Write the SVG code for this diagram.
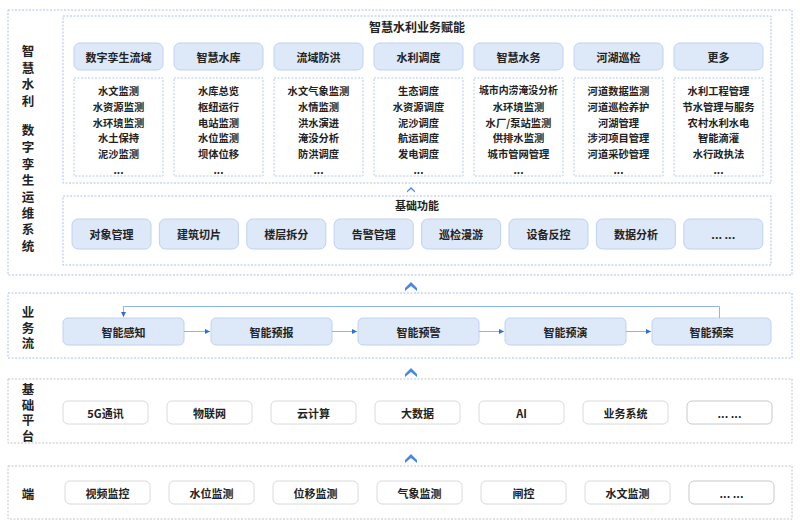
<svg xmlns="http://www.w3.org/2000/svg" width="800" height="527" viewBox="0 0 800 527">
<defs>
<style>
text{font-family:"Noto Sans CJK SC","Liberation Sans",sans-serif;fill:#222;text-anchor:middle;dominant-baseline:central;font-weight:700}
.lbl{font-size:12.5px;font-weight:700}
.t{font-size:11px}
.s{font-size:10.3px}
.outer{fill:#fff;stroke:#a9c3ec;stroke-width:1;stroke-dasharray:2 1.5}
.outerg{fill:#fff;stroke:#c4c4c4;stroke-width:1;stroke-dasharray:2 1.5}
.hd{fill:#dde8f8;stroke:#bfd2f1;stroke-width:1}
.lst{fill:#fff;stroke:#b4cbee;stroke-width:1;stroke-dasharray:2 1.5}
.wb{fill:#fff;stroke:#dadada;stroke-width:1}
.chev{fill:#4a86e8}
.con{fill:none;stroke:#8fb3ec;stroke-width:1}
</style>
<marker id="ah" markerWidth="6" markerHeight="6" refX="5" refY="3" orient="auto" markerUnits="userSpaceOnUse">
<path d="M0,0.5 L5,3 L0,5.5 Z" fill="#2f6fd6"/>
</marker>
</defs>
<rect width="800" height="527" fill="#fff"/>

<!-- Layer 1: system -->
<g id="layer-system">
<rect class="outer" x="8" y="10" width="784" height="265"/>
<text class="lbl"><tspan x="28" y="50">智</tspan><tspan x="28" y="67">慧</tspan><tspan x="28" y="83">水</tspan><tspan x="28" y="100">利</tspan><tspan x="28" y="129">数</tspan><tspan x="28" y="146">字</tspan><tspan x="28" y="163">孪</tspan><tspan x="28" y="179">生</tspan><tspan x="28" y="196">运</tspan><tspan x="28" y="212">维</tspan><tspan x="28" y="228">系</tspan><tspan x="28" y="245">统</tspan></text>
</g>

<g id="business">
<rect class="outer" x="63" y="16" width="708" height="167"/>
<text x="417" y="26" style="font-size:12px">智慧水利业务赋能</text>
</g>

<g id="col-1">
<rect class="hd" x="74" y="43" width="89" height="27" rx="6"/>
<text class="t" x="118.5" y="56.5">数字孪生流域</text>
<rect class="lst" x="74" y="78" width="89" height="98"/>
<text class="s" x="118.5" y="90">水文监测</text>
<text class="s" x="118.5" y="106">水资源监测</text>
<text class="s" x="118.5" y="122">水环境监测</text>
<text class="s" x="118.5" y="137">水土保持</text>
<text class="s" x="118.5" y="153">泥沙监测</text>
<text class="s" x="118.5" y="169">...</text>
</g>
<g id="col-2">
<rect class="hd" x="174" y="43" width="89" height="27" rx="6"/>
<text class="t" x="218.5" y="56.5">智慧水库</text>
<rect class="lst" x="174" y="78" width="89" height="98"/>
<text class="s" x="218.5" y="90">水库总览</text>
<text class="s" x="218.5" y="106">枢纽运行</text>
<text class="s" x="218.5" y="122">电站监测</text>
<text class="s" x="218.5" y="137">水位监测</text>
<text class="s" x="218.5" y="153">坝体位移</text>
<text class="s" x="218.5" y="169">...</text>
</g>
<g id="col-3">
<rect class="hd" x="274" y="43" width="89" height="27" rx="6"/>
<text class="t" x="318.5" y="56.5">流域防洪</text>
<rect class="lst" x="274" y="78" width="89" height="98"/>
<text class="s" x="318.5" y="90">水文气象监测</text>
<text class="s" x="318.5" y="106">水情监测</text>
<text class="s" x="318.5" y="122">洪水演进</text>
<text class="s" x="318.5" y="137">淹没分析</text>
<text class="s" x="318.5" y="153">防洪调度</text>
<text class="s" x="318.5" y="169">...</text>
</g>
<g id="col-4">
<rect class="hd" x="374" y="43" width="89" height="27" rx="6"/>
<text class="t" x="418.5" y="56.5">水利调度</text>
<rect class="lst" x="374" y="78" width="89" height="98"/>
<text class="s" x="418.5" y="90">生态调度</text>
<text class="s" x="418.5" y="106">水资源调度</text>
<text class="s" x="418.5" y="122">泥沙调度</text>
<text class="s" x="418.5" y="137">航运调度</text>
<text class="s" x="418.5" y="153">发电调度</text>
<text class="s" x="418.5" y="169">...</text>
</g>
<g id="col-5">
<rect class="hd" x="474" y="43" width="89" height="27" rx="6"/>
<text class="t" x="518.5" y="56.5">智慧水务</text>
<rect class="lst" x="474" y="78" width="89" height="98"/>
<text class="s" x="518.5" y="90" style="font-size:9.9px">城市内涝淹没分析</text>
<text class="s" x="518.5" y="106">水环境监测</text>
<text class="s" x="518.5" y="122">水厂/泵站监测</text>
<text class="s" x="518.5" y="137">供排水监测</text>
<text class="s" x="518.5" y="153">城市管网管理</text>
<text class="s" x="518.5" y="169">...</text>
</g>
<g id="col-6">
<rect class="hd" x="574" y="43" width="89" height="27" rx="6"/>
<text class="t" x="618.5" y="56.5">河湖巡检</text>
<rect class="lst" x="574" y="78" width="89" height="98"/>
<text class="s" x="618.5" y="90">河道数据监测</text>
<text class="s" x="618.5" y="106">河道巡检养护</text>
<text class="s" x="618.5" y="122">河湖管理</text>
<text class="s" x="618.5" y="137">涉河项目管理</text>
<text class="s" x="618.5" y="153">河道采砂管理</text>
<text class="s" x="618.5" y="169">...</text>
</g>
<g id="col-7">
<rect class="hd" x="674" y="43" width="89" height="27" rx="6"/>
<text class="t" x="718.5" y="56.5">更多</text>
<rect class="lst" x="674" y="78" width="89" height="98"/>
<text class="s" x="718.5" y="90">水利工程管理</text>
<text class="s" x="718.5" y="106">节水管理与服务</text>
<text class="s" x="718.5" y="122">农村水利水电</text>
<text class="s" x="718.5" y="137">智能滴灌</text>
<text class="s" x="718.5" y="153">水行政执法</text>
<text class="s" x="718.5" y="169">...</text>
</g>

<g id="basic">
<rect class="outer" x="63" y="196" width="708" height="69"/>
<text x="417" y="205" style="font-size:11px">基础功能</text>
<rect class="hd" x="72" y="219" width="79" height="30" rx="6"/><text class="t" x="111.5" y="234">对象管理</text>
<rect class="hd" x="159.4" y="219" width="79" height="30" rx="6"/><text class="t" x="198.9" y="234">建筑切片</text>
<rect class="hd" x="246.8" y="219" width="79" height="30" rx="6"/><text class="t" x="286.3" y="234">楼层拆分</text>
<rect class="hd" x="334.2" y="219" width="79" height="30" rx="6"/><text class="t" x="373.7" y="234">告警管理</text>
<rect class="hd" x="421.6" y="219" width="79" height="30" rx="6"/><text class="t" x="461.1" y="234">巡检漫游</text>
<rect class="hd" x="509" y="219" width="79" height="30" rx="6"/><text class="t" x="548.5" y="234">设备反控</text>
<rect class="hd" x="596.4" y="219" width="79" height="30" rx="6"/><text class="t" x="635.9" y="234">数据分析</text>
<rect class="hd" x="683.8" y="219" width="79" height="30" rx="6"/><text class="t" x="723.3" y="234">... ...</text>
</g>

<!-- Layer 2: business flow -->
<g id="layer-flow">
<rect class="outer" x="8" y="293" width="784" height="65"/>
<text class="lbl"><tspan x="28" y="311">业</tspan><tspan x="28" y="327">务</tspan><tspan x="28" y="342">流</tspan></text>
</g>
<g id="n-ganzhi"><rect class="hd" x="63" y="318" width="121" height="27" rx="5"/><text class="t" x="123.5" y="331.5">智能感知</text></g>
<g id="n-yubao"><rect class="hd" x="211" y="318" width="121" height="27" rx="5"/><text class="t" x="271.5" y="331.5">智能预报</text></g>
<g id="n-yujing"><rect class="hd" x="358" y="318" width="121" height="27" rx="5"/><text class="t" x="418.5" y="331.5">智能预警</text></g>
<g id="n-yuyan"><rect class="hd" x="505" y="318" width="121" height="27" rx="5"/><text class="t" x="565.5" y="331.5">智能预演</text></g>
<g id="n-yuan"><rect class="hd" x="652" y="318" width="119" height="27" rx="5"/><text class="t" x="711.5" y="331.5">智能预案</text></g>

<!-- Layer 3: platform -->
<g id="layer-platform">
<rect class="outerg" x="8" y="379" width="784" height="64"/>
<text class="lbl"><tspan x="28" y="388">基</tspan><tspan x="28" y="404">础</tspan><tspan x="28" y="419">平</tspan><tspan x="28" y="435">台</tspan></text>
<rect class="wb" x="63" y="401" width="85" height="23" rx="5"/><text class="t" x="105.5" y="412.5">5G通讯</text>
<rect class="wb" x="167" y="401" width="85" height="23" rx="5"/><text class="t" x="209.5" y="412.5">物联网</text>
<rect class="wb" x="271" y="401" width="85" height="23" rx="5"/><text class="t" x="313.5" y="412.5">云计算</text>
<rect class="wb" x="375" y="401" width="85" height="23" rx="5"/><text class="t" x="417.5" y="412.5">大数据</text>
<rect class="wb" x="479" y="401" width="85" height="23" rx="5"/><text class="t" x="521.5" y="412.5">AI</text>
<rect class="wb" x="583" y="401" width="85" height="23" rx="5"/><text class="t" x="625.5" y="412.5">业务系统</text>
<rect class="wb" x="687" y="401" width="85" height="23" rx="5" style="stroke:#c8c8c8"/><text class="t" x="729.5" y="412.5">... ...</text>
</g>

<!-- Layer 4: terminal -->
<g id="layer-terminal">
<rect class="outerg" x="8" y="466" width="784" height="53"/>
<text x="28" y="493" class="lbl">端</text>
<rect class="wb" x="65" y="481" width="85" height="23" rx="5"/><text class="t" x="107.5" y="492.5">视频监控</text>
<rect class="wb" x="169" y="481" width="85" height="23" rx="5"/><text class="t" x="211.5" y="492.5">水位监测</text>
<rect class="wb" x="273" y="481" width="85" height="23" rx="5"/><text class="t" x="315.5" y="492.5">位移监测</text>
<rect class="wb" x="377" y="481" width="85" height="23" rx="5"/><text class="t" x="419.5" y="492.5">气象监测</text>
<rect class="wb" x="481" y="481" width="85" height="23" rx="5"/><text class="t" x="523.5" y="492.5">闸控</text>
<rect class="wb" x="585" y="481" width="85" height="23" rx="5"/><text class="t" x="627.5" y="492.5">水文监测</text>
<rect class="wb" x="689" y="481" width="85" height="23" rx="5" style="stroke:#c8c8c8"/><text class="t" x="731.5" y="492.5">... ...</text>
</g>

<g id="connectors">
<path class="con" d="M184,331.5 H210" marker-end="url(#ah)"/>
<path class="con" d="M332,331.5 H357" marker-end="url(#ah)"/>
<path class="con" d="M479,331.5 H504" marker-end="url(#ah)"/>
<path class="con" d="M626,331.5 H651" marker-end="url(#ah)"/>
<path class="con" d="M719.5,318 V306.5 H123.5 V317" marker-end="url(#ah)"/>
<path class="chev" d="M407,191 L411,187 L415,191 L415,192.5 L411,189 L407,192.5 Z"/>
<path class="chev" d="M405,288 L411,282 L417,288 L417,291 L411,286 L405,291 Z"/>
<path class="chev" d="M405,374 L411,368 L417,374 L417,377 L411,372 L405,377 Z"/>
<path class="chev" d="M405,460 L411,454 L417,460 L417,463 L411,458 L405,463 Z"/>
</g>
</svg>
